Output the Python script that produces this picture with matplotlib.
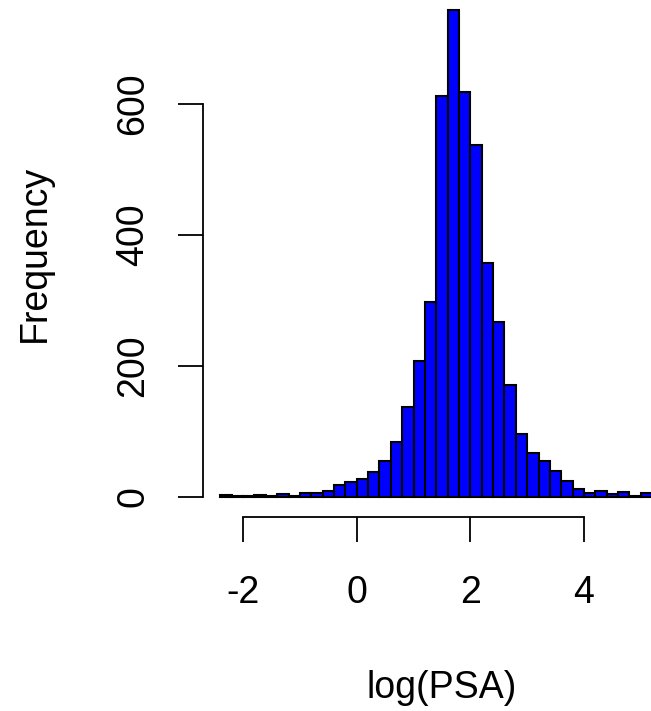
import matplotlib
matplotlib.use("Agg")
import matplotlib.pyplot as plt
import numpy as np

# histogram of log(PSA), bins of width 0.2 starting at -2.4
bin_left = -2.4
bin_width = 0.2
counts = [2, 1, 1, 2, 1, 4, 1, 5, 5, 9, 18, 22, 27, 37, 55, 83, 137, 207, 298,
          612, 743, 618, 537, 357, 266, 171, 96, 67, 54, 40, 24, 12, 5, 8, 4, 7, 1, 5]
x_ticks = [-2, 0, 2, 4]
y_ticks = [0, 200, 400, 600]

edges = bin_left + bin_width * np.arange(len(counts) + 1)

plt.rcParams['font.family'] = ['Liberation Sans', 'DejaVu Sans']

fig = plt.figure(figsize=(6.51, 7.11), dpi=100)
ax = fig.add_axes([0.3114, 0.2733, 0.7349, 0.7406])

ax.bar(edges[:-1], counts, width=bin_width, align='edge',
       color='#0000ff', edgecolor='black', linewidth=1.5)

ax.set_xlim(-2.711, 5.711)
ax.set_ylim(-30.5, 773.5)

for s in ['top', 'right']:
    ax.spines[s].set_visible(False)
ax.spines['left'].set_bounds(0, 600)
ax.spines['bottom'].set_bounds(-2, 4)
ax.spines['left'].set_linewidth(1.3)
ax.spines['bottom'].set_linewidth(1.3)

ax.set_xticks(x_ticks)
ax.set_yticks(y_ticks)
ax.set_xticklabels([str(t) for t in x_ticks])
ax.set_yticklabels([str(t) for t in y_ticks], rotation=90, va='center')
ax.tick_params(length=18, width=1.3, labelsize=27)
ax.tick_params(axis='x', pad=24)
ax.tick_params(axis='y', pad=19)

ax.set_xlabel('log(PSA)', fontsize=27)
ax.set_ylabel('Frequency', fontsize=27)
ax.xaxis.set_label_coords(0.5, -0.325)
ax.yaxis.set_label_coords(-0.3505, 0.5)
ax.xaxis.label.set_va('center')
ax.yaxis.label.set_va('center')

fig.savefig('out.png', dpi=100)
